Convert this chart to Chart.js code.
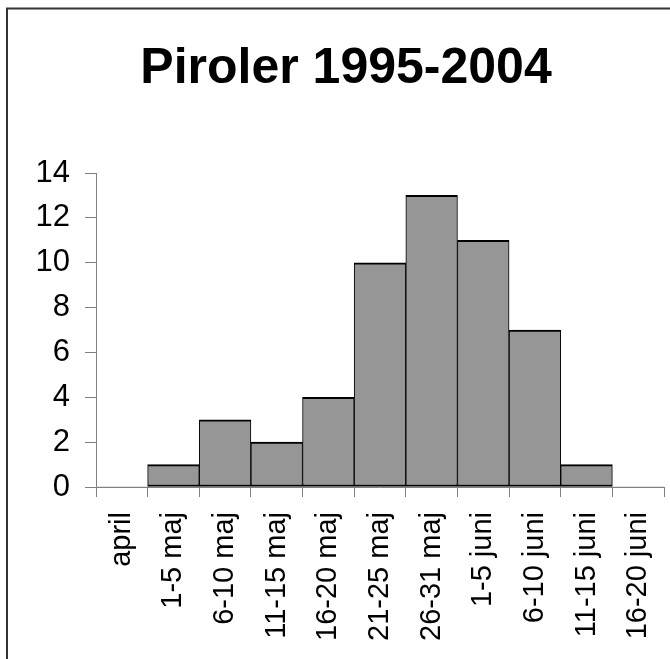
<!DOCTYPE html>
<html>
<head>
<meta charset="utf-8">
<script src="https://cdn.jsdelivr.net/npm/chart.js@4"></script>
<style>
  html, body { margin: 0; padding: 0; background: #fff; }
  #wrap { width: 670px; height: 659px; position: relative; }
</style>
</head>
<body>
<div id="wrap"><canvas id="chart" width="670" height="659"></canvas></div>
<script>
const categories = ['april', '1-5 maj', '6-10 maj', '11-15 maj', '16-20 maj', '21-25 maj',
                    '26-31 maj', '1-5 juni', '6-10 juni', '11-15 juni', '16-20 juni'];
const counts = [0, 1, 3, 2, 4, 10, 13, 11, 7, 1, 0];
const yTicks = [0, 2, 4, 6, 8, 10, 12, 14];
const chartTitle = 'Piroler 1995-2004';

const fontFamily = '"Liberation Sans", Arial, sans-serif';

// outer frame + title, drawn by hand
const framePlugin = {
    id: 'frame',
    beforeDraw(chart) {
        const ctx = chart.ctx;
        ctx.save();
        ctx.fillStyle = '#fff';
        ctx.fillRect(0, 0, chart.width, chart.height);
        ctx.strokeStyle = '#333';
        ctx.lineWidth = 2;
        ctx.beginPath();
        ctx.moveTo(7, 700);
        ctx.lineTo(7, 8.5);
        ctx.lineTo(700, 8.5);
        ctx.stroke();
        ctx.restore();
    },
    afterDraw(chart) {
        const ctx = chart.ctx;
        ctx.save();
        ctx.fillStyle = '#000';
        ctx.textAlign = 'center';
        ctx.textBaseline = 'alphabetic';
        ctx.font = 'bold 50px ' + fontFamily;
        ctx.fillText(chartTitle, 346, 83);
        ctx.restore();
    }
};

new Chart(document.getElementById('chart'), {
    type: 'bar',
    data: {
        labels: categories,
        datasets: [{
            label: chartTitle,
            data: counts,
            backgroundColor: '#969696',
            borderColor: '#000',
            borderWidth: ctx => ctx.raw === 0 ? 0 : { top: 2, bottom: 2, left: 1, right: 1 },
            borderSkipped: false,
            barPercentage: 1,
            categoryPercentage: 1
        }]
    },
    options: {
        responsive: false,
        animation: false,
        layout: { padding: { top: 173, right: 6, left: 0, bottom: 0 } },
        plugins: {
            legend: { display: false },
            title: { display: false },
            tooltip: { enabled: false }
        },
        scales: {
            x: {
                afterFit: s => {
                    s.height = 172;
                    s.paddingLeft = 0;
                    s.paddingRight = 0;
                },
                grid: {
                    drawOnChartArea: false,
                    drawTicks: true,
                    tickLength: 10,
                    color: '#808080',
                    offset: true
                },
                border: { color: '#808080', width: 1 },
                ticks: {
                    maxRotation: 90,
                    minRotation: 90,
                    padding: 15,
                    color: '#000',
                    font: { family: fontFamily, size: 29 }
                }
            },
            y: {
                min: 0,
                max: 14,
                afterFit: s => {
                    s.width = 96;
                    s.paddingTop = 0;
                    s.paddingBottom = 0;
                },
                afterBuildTicks: s => { s.ticks = yTicks.map(v => ({ value: v })); },
                grid: {
                    drawOnChartArea: false,
                    drawTicks: true,
                    tickLength: 11,
                    color: '#808080'
                },
                border: { color: '#808080', width: 1 },
                ticks: {
                    padding: 15,
                    color: '#000',
                    font: { family: fontFamily, size: 31 }
                }
            }
        }
    },
    plugins: [framePlugin]
});
</script>
</body>
</html>
